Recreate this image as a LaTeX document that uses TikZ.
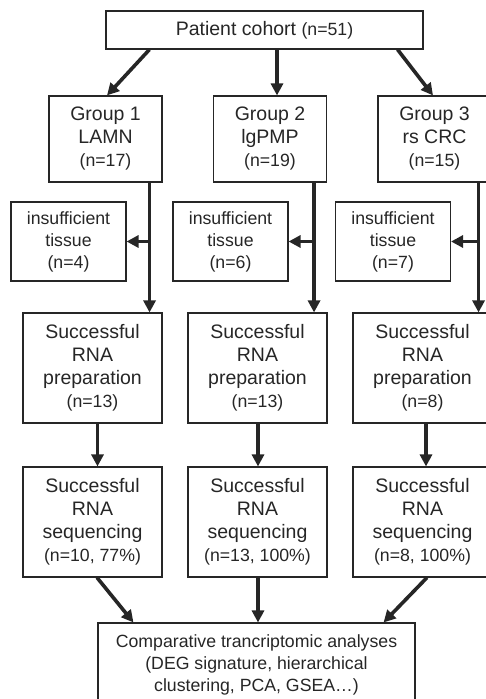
\documentclass[tikz,border=0pt]{standalone}
\usepackage{fontspec}
\setmainfont{Liberation Sans}
\usetikzlibrary{arrows.meta}
\definecolor{ink}{HTML}{262626}
\newcommand{\nsz}{\fontsize{17.7}{22}\selectfont}

\begin{document}
\begin{tikzpicture}[x=1pt, y=-1pt,
    stage/.style={draw=ink, line width=1.1pt, align=center, text=ink, inner sep=0pt,
      font=\fontsize{19.5}{23}\selectfont},
    flow/.style={draw=ink, line width=3.6pt, -{Triangle[length=12pt,width=12pt]}}]
  \path[use as bounding box, clip] (0,0) rectangle (486,699);

  \node[stage, minimum width=317pt, minimum height=38pt] (cohort) at (264.5,30) {Patient cohort {\nsz(n=51)}}; % top box

  \node[stage, minimum width=113pt, minimum height=86pt] (g1) at (105.5,139) {Group 1\\LAMN\\{\nsz(n=17)}};
  \node[stage, minimum width=113pt, minimum height=86pt] (g2) at (270,139) {Group 2\\lgPMP\\{\nsz(n=19)}};
  \node[stage, minimum width=113pt, minimum height=86pt] (g3) at (434.5,139) {Group 3\\rs CRC\\{\nsz(n=15)}};

  \node[stage, font=\nsz, minimum width=115pt, minimum height=79pt] (ins1) at (68.5,241.5) {insufficient\\tissue\\(n=4)};
  \node[stage, font=\nsz, minimum width=115pt, minimum height=79pt] (ins2) at (230.5,241.5) {insufficient\\tissue\\(n=6)};
  \node[stage, font=\nsz, minimum width=115pt, minimum height=79pt] (ins3) at (393,241.5) {insufficient\\tissue\\(n=7)};

  \node[stage, minimum width=139pt, minimum height=110pt] (prep1) at (92.5,368) {Successful\\RNA\\preparation\\{\nsz(n=13)}};
  \node[stage, minimum width=139pt, minimum height=110pt] (prep2) at (257.5,368) {Successful\\RNA\\preparation\\{\nsz(n=13)}};
  \node[stage, minimum width=139pt, minimum height=110pt] (prep3) at (422.5,368) {Successful\\RNA\\preparation\\{\nsz(n=8)}};

  \node[stage, minimum width=139pt, minimum height=110pt] (seq1) at (92.5,522) {Successful\\RNA\\sequencing\\{\nsz(n=10, 77\%)}};
  \node[stage, minimum width=139pt, minimum height=110pt] (seq2) at (257.5,522) {Successful\\RNA\\sequencing\\{\nsz(n=13, 100\%)}};
  \node[stage, minimum width=139pt, minimum height=110pt] (seq3) at (422.5,522) {Successful\\RNA\\sequencing\\{\nsz(n=8, 100\%)}};

  \node[stage, font=\nsz, minimum width=317pt, minimum height=84pt] (result) at (256.5,665) {Comparative trancriptomic analyses\\(DEG signature, hierarchical\\clustering, PCA, GSEA…)}; % bottom box

  % cohort to groups
  \draw[flow] ([xshift=44pt]cohort.south west) -- ([xshift=1.5pt]g1.north);
  \coordinate (c2) at ([xshift=12.5pt]cohort.south);
  \draw[flow] (c2) -- (c2 |- g2.north);
  \draw[flow] ([xshift=-26pt]cohort.south east) -- ([xshift=-1.5pt]g3.north);

  % groups to preparation, with dropouts
  \coordinate (s1) at ([xshift=-13pt]g1.south east);
  \coordinate (s2) at ([xshift=-13pt]g2.south east);
  \coordinate (s3) at ([xshift=-13pt]g3.south east);
  \draw[flow] (s1) -- (s1 |- prep1.north);
  \draw[flow] (s2) -- (s2 |- prep2.north);
  \draw[flow] (s3) -- (s3 |- prep3.north);
  \draw[flow] (s1 |- ins1.east) -- (ins1.east);
  \draw[flow] (s2 |- ins2.east) -- (ins2.east);
  \draw[flow] (s3 |- ins3.east) -- (ins3.east);

  % preparation to sequencing
  \coordinate (p1) at ([xshift=5pt]prep1.south);
  \coordinate (p2) at ([xshift=0.5pt]prep2.south);
  \coordinate (p3) at ([xshift=3.5pt]prep3.south);
  \draw[flow] (p1) -- (p1 |- seq1.north);
  \draw[flow] (p2) -- (p2 |- seq2.north);
  \draw[flow] (p3) -- (p3 |- seq3.north);

  % sequencing to analyses
  \draw[flow] ([xshift=4.5pt]seq1.south) -- ([xshift=36pt]result.north west);
  \coordinate (q2) at ([xshift=0.5pt]seq2.south);
  \draw[flow] (q2) -- (q2 |- result.north);
  \draw[flow] ([xshift=4.5pt]seq3.south) -- ([xshift=-32pt]result.north east);
\end{tikzpicture}
\end{document}
